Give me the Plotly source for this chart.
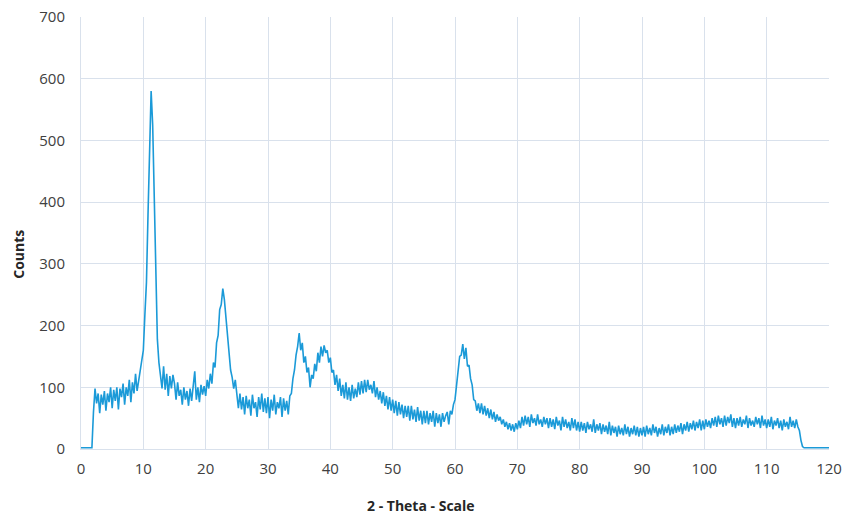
import plotly.graph_objects as go

# Two-theta step (degrees) and counts, 0 to 120 deg
step_deg = 0.25
counts = [
    2,2,2,2,2,2,3,2, 60,98,74,90,58,88,72,94,62,90,76,100,
    66,96,78,100,64,98,84,106,72,100,86,112,76,108,90,122,94,112,124,146,
    160,218,270,380,485,580,525,405,260,178,140,118,98,134,96,122,86,118,98,120,
    106,80,108,86,96,72,100,80,94,70,98,78,102,126,80,100,76,104,88,102,
    86,112,98,122,106,140,132,172,184,226,234,260,242,216,180,152,128,116,98,112,
    92,66,90,64,84,56,86,66,80,54,88,66,76,52,84,64,90,60,82,58,
    84,50,80,62,88,56,76,66,84,52,82,62,78,56,86,90,114,128,152,166,
    188,160,172,140,150,124,132,100,120,114,138,126,156,140,166,150,168,156,160,140,
    148,124,128,104,120,94,114,86,104,82,108,80,100,78,104,82,98,84,108,88,
    110,90,112,92,112,96,104,90,110,84,100,80,94,74,92,70,86,64,84,62,
    80,58,78,54,76,56,72,50,70,52,70,46,70,48,64,44,68,46,62,40,
    62,42,62,40,58,44,62,36,58,42,56,36,58,44,54,60,40,62,56,72,
    80,106,122,150,152,170,146,164,134,136,114,104,80,78,62,74,58,74,56,70,
    54,66,50,64,48,60,44,56,46,52,40,48,36,44,32,42,30,40,28,42,
    32,46,34,52,38,54,40,52,36,56,42,50,38,56,40,48,36,52,40,50,
    34,50,36,48,32,52,38,46,30,52,36,48,34,44,30,50,34,48,30,44,
    28,44,30,42,26,44,32,40,28,48,26,40,30,42,24,40,28,38,24,44,
    22,38,26,36,20,38,24,34,22,40,24,36,20,34,24,38,22,36,20,34,
    22,36,20,38,24,34,22,40,26,36,20,34,24,40,22,36,26,40,22,36,
    24,40,26,38,28,42,24,40,30,44,28,42,32,46,30,44,34,48,30,46,
    32,48,36,46,34,50,38,52,36,54,40,50,36,54,38,52,42,56,36,50,
    34,50,38,52,36,48,40,54,34,50,38,46,36,52,40,50,34,54,38,48,
    34,48,36,52,32,46,38,50,34,46,30,48,36,44,32,52,36,46,34,48,
    36,30,14,4,2,2,2,2,2,2,2,2,2,2,2,2,2,2,2,2,
    2,
]
two_theta = [i * step_deg for i in range(len(counts))]

x_ticks = [0, 10, 20, 30, 40, 50, 60, 70, 80, 90, 100, 110, 120]
y_ticks = [0, 100, 200, 300, 400, 500, 600, 700]
x_title = "2 - Theta - Scale"
y_title = "Counts"

LINE = "#1b9ad8"
GRID = "#d9e1ec"
TXT = "#404040"
FONT = "Open Sans"

fig = go.Figure()
fig.add_trace(go.Scatter(x=two_theta, y=counts, mode="lines",
                         line=dict(color=LINE, width=1.6), hoverinfo="skip"))

fig.update_layout(
    width=848, height=517,
    margin=dict(l=81, r=19, t=17, b=68, autoexpand=False),
    paper_bgcolor="white", plot_bgcolor="white",
    showlegend=False,
    font=dict(family=FONT, size=15, color=TXT),
    annotations=[
        dict(text="<b>" + x_title + "</b>", xref="paper", yref="paper",
             x=0.454, y=-0.13, xanchor="center", yanchor="middle",
             showarrow=False, font=dict(family=FONT, size=14, color="#262626")),
        dict(text="<b>" + y_title + "</b>", xref="paper", yref="paper",
             x=-0.084, y=0.45, xanchor="center", yanchor="middle", textangle=-90,
             showarrow=False, font=dict(family=FONT, size=14, color="#262626")),
    ],
)
fig.update_xaxes(range=[0, 120], tickvals=x_ticks, ticktext=[str(v) for v in x_ticks],
                 showgrid=True, gridcolor=GRID, gridwidth=1, automargin=False,
                 showline=True, linecolor=GRID, linewidth=1, zeroline=False,
                 ticks="", ticklabelstandoff=6, tickfont=dict(size=15, color=TXT))
fig.update_yaxes(range=[0, 700], tickvals=y_ticks, ticktext=[str(v) for v in y_ticks],
                 showgrid=True, gridcolor=GRID, gridwidth=1, automargin=False,
                 showline=True, linecolor=GRID, linewidth=1, zeroline=False,
                 ticks="", ticklabelstandoff=12, tickfont=dict(size=15, color=TXT))

fig.write_html("out.html")
